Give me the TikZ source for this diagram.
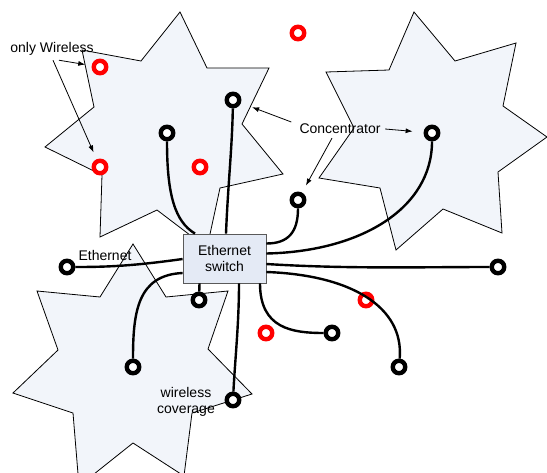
\documentclass[tikz,border=0pt]{standalone}
\usepackage{fontspec}
\setmainfont{Liberation Sans}
\usetikzlibrary{arrows.meta}

\definecolor{cover}{RGB}{242,245,250}
\definecolor{swbox}{RGB}{228,234,245}

\begin{document}
\begin{tikzpicture}[
x=1pt, y=-1pt,
font=\fontsize{14}{16.5}\selectfont,
    Z/.style = {draw, line width=0.8pt, fill=cover},% star shaped coverage areas
    X/.style = {circle, draw=black, fill=white, line width=4.4pt,% concentrators
                minimum size=12.5pt, inner sep=0pt},
    Y/.style = {X, draw=red},% stations with wireless only
    S/.style = {rectangle, draw=black!65, fill=swbox, line width=0.8pt,
                minimum width=83pt, minimum height=49pt, align=center},
    L/.style = {line width=2.4pt},% ethernet cables
    T/.style = {inner sep=0pt},
    P/.style = {-{Latex[length=7pt,width=5pt]}, line width=0.8pt},% label pointers
                        ]
\useasboundingbox (0,0) rectangle (547,472);
% coverage areas
\draw[Z] (180,12) -- (207,68) -- (269,68) -- (242,124) -- (283,174) -- (220,188)
      -- (207,248) -- (157,210) -- (100,237) -- (102,175) -- (45,147) -- (94,107)
      -- (82,50) -- (141,61) -- cycle;
\draw[Z] (414,12) -- (455,61) -- (516,43) -- (503,106) -- (547,137) -- (498,172)
      -- (502,233) -- (443,209) -- (396,250) -- (380,188) -- (319,178) -- (354,128)
      -- (326,72) -- (389,70) -- cycle;
\draw[Z] (133,244) -- (166,297) -- (228,291) -- (208,349) -- (252,394) -- (192,413)
      -- (184,476) -- (133,443) -- (79,486) -- (73,413) -- (13,393) -- (58,350)
      -- (37,291) -- (100,297) -- cycle;

\node[S] (sw) at (224.5,258.5) {Ethernet\\switch};

\foreach \p [count=\i] in {(233,100),(167,133),(298,200),(432,133),(67,267),
                           (199,300),(133,367),(233,400),(498,267),(332,333),(399,367)}% <-- concentrators
    \node[X] (c\i) at \p {};
\foreach \p [count=\i] in {(298,33),(100,67),(100,167),(200,167),(366,300),(266,333)}% <-- wireless only
    \node[Y] (w\i) at \p {};

% cables to the switch
\draw[L] (c1) .. controls +(-1,50) and +(2,-50) .. ([xshift=1.5pt]sw.north);
\draw[L] (c2) .. controls +(0,62) and +(-20,-12) .. ([xshift=-29.5pt]sw.north);
\draw[L] (c3) .. controls +(0,32) and +(22,0) .. ([yshift=15pt]sw.east);
\draw[L] (c4) .. controls +(0,75) and +(95,-2) .. ([yshift=5pt]sw.east);
\draw[L] ([yshift=-5.5pt]sw.east) .. controls +(80,5) and +(-80,0) .. (c9);
\draw[L] ([yshift=-13.5pt]sw.east) .. controls +(85,3) and +(5,-60) .. (c11);
\draw[L] ([xshift=35.5pt]sw.south) .. controls +(0,45) and +(-40,0) .. (c10);
\draw[L] ([xshift=14.5pt]sw.south) .. controls +(0,40) and +(2,-40) .. (c8);
\draw[L] ([xshift=-25pt]sw.south) -- (c6);
\draw[L] ([yshift=-14.5pt]sw.west) .. controls +(-45,2) and +(0,-55) .. (c7);
\draw[L] ([yshift=-0.5pt]sw.west) .. controls +(-50,7) and +(40,0) .. (c5);

% labels
\node[T] (ow) at (52,49) {only Wireless};
\node[T] (cn) at (340,129) {Concentrator};
\node[T] (et) at (105,255) {Ethernet};
\node[T, align=center] (wc) at (186,402) {wireless\\coverage};

\draw[P, shorten >=6.5pt] ([xshift=7pt,yshift=-4.5pt]ow.south) -- (w2);
\draw[P, shorten >=7.5pt] ([xshift=1pt,yshift=-4.5pt]ow.south) -- (w3);
\draw[P, shorten >=12pt] ([xshift=-8pt,yshift=7pt]cn.west) -- (c1);
\draw[P, shorten >=11pt] ([xshift=4.5pt]cn.east) -- (c4);
\draw[P, shorten >=8pt] ([xshift=-8pt,yshift=-4pt]cn.south) -- (c3);
\end{tikzpicture}
\end{document}
